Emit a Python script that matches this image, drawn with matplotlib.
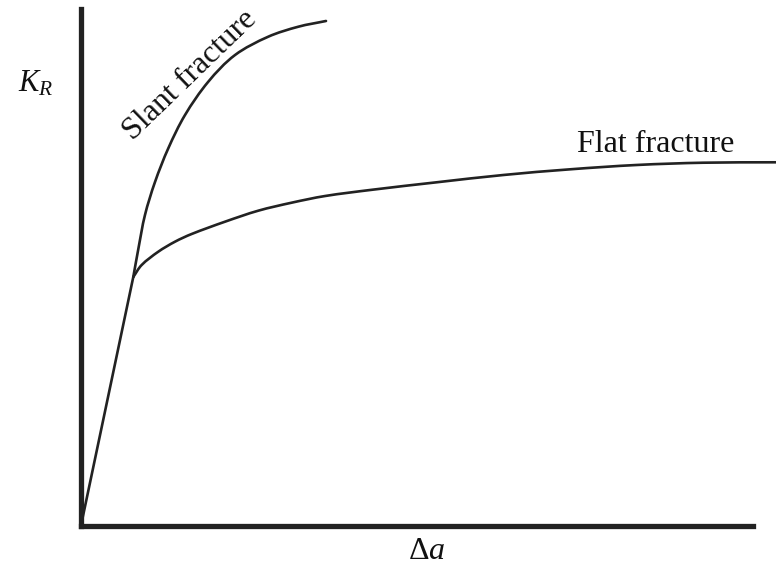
import matplotlib
matplotlib.use("Agg")
import matplotlib.pyplot as plt
from matplotlib.path import Path
from matplotlib.patches import PathPatch

# Data (arbitrary units: Δa 0..100 across the axis, K_R 0..100 up the axis)
elastic_x = [0.0, 7.78]
elastic_y = [0.0, 48.11]

slant_x = [7.78, 8.53, 9.52, 11.01, 12.99, 15.48, 18.94, 22.92, 27.87, 32.34, 36.46]
slant_y = [48.11, 53.53, 60.12, 66.50, 73.03, 79.48, 85.92, 91.09, 94.64, 96.57, 97.68]

flat_x = [7.78, 9.03, 11.50, 13.99, 16.47, 21.43, 26.38, 31.35, 36.31, 43.30,
          52.93, 62.84, 72.77, 82.69, 92.60, 103.42]
flat_y = [48.11, 50.44, 53.01, 54.95, 56.44, 58.82, 60.95, 62.50, 63.79, 65.00,
          66.45, 67.86, 68.96, 69.80, 70.24, 70.32]

plt.rcParams['mathtext.fontset'] = 'custom'
plt.rcParams['mathtext.it'] = 'Liberation Serif:italic'
plt.rcParams['mathtext.rm'] = 'Liberation Serif'

W, H = 776, 565
fig = plt.figure(figsize=(W / 100, H / 100), dpi=100)
ax = fig.add_axes([81 / W, (H - 525.5) / H, (753 - 81) / W, (525.5 - 9) / H])
ax.set_xlim(0, 100)
ax.set_ylim(0, 100)

ink = '#222222'
for s in ['top', 'right']:
    ax.spines[s].set_visible(False)
for s in ['left', 'bottom']:
    ax.spines[s].set_linewidth(3.8)
    ax.spines[s].set_color(ink)
    ax.spines[s].set_capstyle('projecting')
ax.set_xticks([])
ax.set_yticks([])

lw = 1.9


def smooth_path(xs, ys):
    """Catmull-Rom through the read points, drawn as cubic Bezier segments."""
    pts = list(zip(xs, ys))
    n = len(pts)
    verts = [pts[0]]
    codes = [Path.MOVETO]

    def tang(a, b):
        L = ((b[0] - a[0]) ** 2 + (b[1] - a[1]) ** 2) ** 0.5 or 1.0
        return ((b[0] - a[0]) / L, (b[1] - a[1]) / L)

    for i in range(n - 1):
        p1 = pts[i]
        p2 = pts[i + 1]
        p0 = pts[i - 1] if i > 0 else p1
        p3 = pts[i + 2] if i + 2 < n else p2
        d12 = ((p2[0] - p1[0]) ** 2 + (p2[1] - p1[1]) ** 2) ** 0.5
        t1 = tang(p0, p2)
        t2 = tang(p1, p3)
        c1 = (p1[0] + t1[0] * d12 / 3, p1[1] + t1[1] * d12 / 3)
        c2 = (p2[0] - t2[0] * d12 / 3, p2[1] - t2[1] * d12 / 3)
        verts += [c1, c2, p2]
        codes += [Path.CURVE4] * 3
    return Path(verts, codes)


ax.plot(elastic_x, elastic_y, color=ink, lw=lw, solid_capstyle='round', clip_on=False)

for xs, ys in [(slant_x, slant_y), (flat_x, flat_y)]:
    patch = PathPatch(smooth_path(xs, ys), facecolor='none', edgecolor=ink, lw=lw,
                      capstyle='round', joinstyle='round', clip_on=False)
    ax.add_patch(patch)

serif = 'Liberation Serif'
ax.text(16.2, 87.1, 'Slant fracture', rotation=44, ha='center', va='center',
        fontsize=23, family=serif, color='#111111', rotation_mode='anchor')
ax.text(85.5, 72.3, 'Flat fracture', ha='center', va='baseline',
        fontsize=23, family=serif, color='#111111')
ax.text(-6.7, 85.7, '$K_R$', ha='center', va='center', fontsize=22, color='#111111',
        clip_on=False)
ax.text(51.4, -6.4, r'$\Delta a$', ha='center', va='baseline', fontsize=23, color='#111111',
        clip_on=False)

fig.savefig('out.png', dpi=100)
